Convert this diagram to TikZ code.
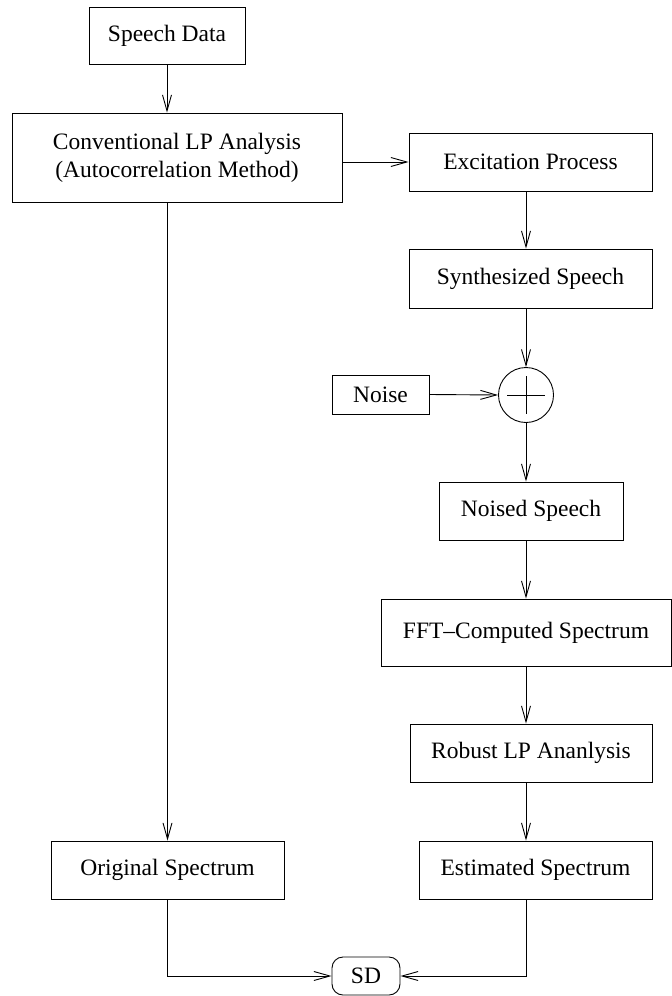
\documentclass[tikz,border=0pt]{standalone}
\usepackage{fontspec}
\setmainfont{Liberation Serif}
\usetikzlibrary{arrows.meta}
\begin{document}
\begin{tikzpicture}[x=1pt,y=-1pt,
  box/.style={draw, line width=0.9pt, inner sep=0pt, font=\fontsize{23.5}{28}\selectfont, align=center},
  arr/.style={draw, line width=0.9pt, -{Straight Barb[length=16pt,width=9pt,line width=0.9pt]}},
  ln/.style={draw, line width=0.9pt}]
\useasboundingbox (0,0) rectangle (672,996);
\coordinate (colx) at (526,0);
\node[box, minimum width=156pt, minimum height=57pt] (speech) at (167,35.5) {Speech Data};
\node[box, minimum width=330pt, minimum height=89pt] (conv) at (177,157.5) {Conventional LP Analysis\\(Autocorrelation Method)};
\node[box, minimum width=243pt, minimum height=58pt] (exc) at (530.5,162) {Excitation Process};
\node[box, minimum width=243pt, minimum height=59pt] (syn) at (530.5,278.5) {Synthesized Speech};
\node[draw, line width=0.9pt, circle, minimum size=55pt, inner sep=0pt] (sum) at (526,395) {};
\node[box, minimum width=97pt, minimum height=39pt] (noise) at (380.5,394.5) {Noise};
\node[box, minimum width=184pt, minimum height=58pt] (noised) at (531,511) {Noised Speech};
\node[box, minimum width=290pt, minimum height=67pt] (fft) at (526,632.5) {FFT--Computed Spectrum};
\node[box, minimum width=242pt, minimum height=58pt] (robust) at (531,753) {Robust LP Ananlysis};
\node[box, minimum width=233pt, minimum height=58pt] (orig) at (167.5,870) {Original Spectrum};
\node[box, minimum width=233pt, minimum height=58pt] (est) at (535.5,870) {Estimated Spectrum};
\node[box, rounded corners=11pt, minimum width=68pt, minimum height=38pt] (sd) at (366,976) {SD};
% plus sign
\draw[ln] (sum.center) +(-19,0) -- +(19,0);
\draw[ln] (sum.center) +(0,-19) -- +(0,19);
% left column
\draw[arr] (speech.south) -- (speech.south |- conv.north);
\draw[arr] (conv.south -| orig.north) -- (orig.north);
\draw[arr] (conv.east |- exc.west) -- (exc.west);
% right column
\draw[arr] (exc.south -| colx) -- (syn.north -| colx);
\draw[arr] (syn.south -| colx) -- (sum.north);
\draw[arr] (noise.east) -- (sum.west);
\draw[arr] (sum.south) -- (noised.north -| colx);
\draw[arr] (noised.south -| colx) -- (fft.north -| colx);
\draw[arr] (fft.south -| colx) -- (robust.north -| colx);
\draw[arr] (robust.south -| colx) -- (est.north -| colx);
% to SD
\draw[arr] (orig.south) |- (sd.west);
\draw[arr] (est.south -| colx) |- (sd.east);
\end{tikzpicture}
\end{document}
